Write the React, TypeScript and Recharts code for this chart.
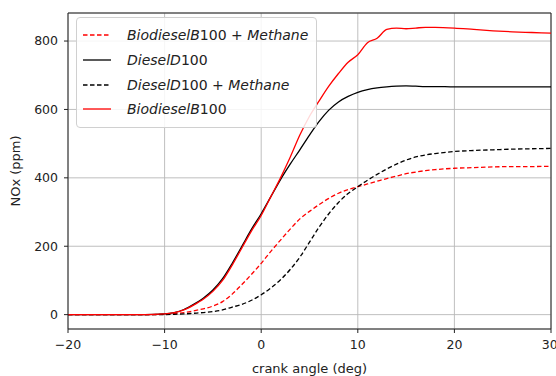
import React from 'react'
import {
  LineChart,
  Line,
  XAxis,
  YAxis,
  CartesianGrid,
  ReferenceLine,
} from 'recharts'

// crank angle samples (deg)
const crankAngle = [
  -20, -15, -12, -10, -9, -8, -7, -6, -5, -4, -3, -2, -1, 0, 1, 2, 3, 4, 5, 6, 7, 8, 9, 10,
  11, 12, 13, 14, 15, 16, 17, 18, 20, 22, 24, 26, 28, 30,
]

// NOx (ppm) per fuel
const biodieselMethane = [
  0, 0, 0, 1, 3, 6, 11, 17, 25, 38, 60, 88, 118, 150, 185, 218, 250, 280, 302, 322, 340, 355,
  366, 374, 382, 390, 398, 405, 412, 417, 421, 424, 428, 430, 432, 433, 433, 434,
]
const diesel = [
  0, 0, 0, 2, 6, 15, 30, 48, 72, 105, 150, 200, 250, 295, 345, 395, 440, 482, 525, 565, 598,
  622, 638, 650, 658, 663, 666, 668, 669, 668, 667, 667, 666, 666, 666, 666, 666, 666,
]
const dieselMethane = [
  0, 0, 0, 0, 1, 2, 4, 6, 9, 14, 22, 30, 42, 58, 78, 102, 132, 168, 212, 256, 295, 328, 354,
  374, 393, 410, 426, 440, 452, 461, 467, 471, 477, 480, 482, 484, 485, 486,
]
const biodiesel = [
  0, 0, 0, 2, 6, 14, 28, 45, 68, 100, 145, 195, 245, 290, 345, 400, 460, 525, 580, 625, 668,
  705, 738, 760, 795, 808, 834, 838, 836, 838, 840, 840, 838, 834, 830, 827, 825, 823,
]

const xTicks = [-20, -10, 0, 10, 20, 30]
const yTicks = [0, 200, 400, 600, 800]

const data = crankAngle.map((x, i) => ({
  x,
  bm: biodieselMethane[i],
  d: diesel[i],
  dm: dieselMethane[i],
  b: biodiesel[i],
}))

const FONT = '"DejaVu Sans", sans-serif'
const TICK = { fontSize: 12.5, fill: '#222', fontFamily: FONT }
const LABEL = { fontSize: 13, fill: '#222', fontFamily: FONT }

const series = [
  { key: 'bm', color: '#ff0000', dash: '4.5 2.5', base: 'BiodieselB', num: '100', tail: true },
  { key: 'd', color: '#000', dash: undefined, base: 'DieselD', num: '100', tail: false },
  { key: 'dm', color: '#000', dash: '4.5 2.5', base: 'DieselD', num: '100', tail: true },
  { key: 'b', color: '#ff0000', dash: undefined, base: 'BiodieselB', num: '100', tail: false },
]

const minus = (v: number) => String(v).replace('-', '\u2212')

function FuelLegend() {
  return (
    <div
      style={{
        position: 'absolute',
        left: 76,
        top: 17,
        border: '1px solid #d0d0d0',
        borderRadius: 4,
        background: 'rgba(255,255,255,0.85)',
        padding: '5px 8px 5px 5px',
        fontFamily: FONT,
        fontSize: 14,
        color: '#222',
      }}
    >
      {series.map((s) => (
        <div key={s.key} style={{ display: 'flex', alignItems: 'center', height: 24.7 }}>
          <svg width={30} height={10} style={{ marginRight: 15 }}>
            <line
              x1={1}
              y1={5}
              x2={29}
              y2={5}
              stroke={s.color}
              strokeWidth={1.3}
              strokeDasharray={s.dash}
            />
          </svg>
          <span style={{ whiteSpace: 'nowrap' }}>
            <i>{s.base}</i>
            {s.num}
            {s.tail && (
              <>
                {' + '}
                <i>Methane</i>
              </>
            )}
          </span>
        </div>
      ))}
    </div>
  )
}

export default function App() {
  return (
    <div style={{ position: 'fixed', left: 0, top: 0, width: 556, height: 376, background: '#fff' }}>
      <LineChart
        width={556}
        height={376}
        data={data}
        margin={{ top: 13, right: 5, bottom: 0, left: 0 }}
      >
        <CartesianGrid stroke="#b8b8b8" strokeWidth={0.9} />
        <XAxis
          dataKey="x"
          type="number"
          domain={[-20, 30]}
          ticks={xTicks}
          allowDataOverflow
          tick={TICK}
          tickFormatter={minus}
          tickSize={4}
          tickMargin={7}
          tickLine={{ stroke: '#222' }}
          axisLine={{ stroke: '#222' }}
          height={47}
          label={{
            value: 'crank angle (deg)',
            position: 'insideBottom',
            offset: 3,
            style: LABEL,
          }}
        />
        <YAxis
          type="number"
          domain={[-42, 882]}
          ticks={yTicks}
          allowDataOverflow
          tick={TICK}
          tickSize={4}
          tickMargin={6}
          tickLine={{ stroke: '#222' }}
          axisLine={{ stroke: '#222' }}
          width={68}
          label={{
            value: 'NOx (ppm)',
            angle: -90,
            position: 'insideLeft',
            offset: 15,
            style: { ...LABEL, textAnchor: 'middle' },
          }}
        />
        <ReferenceLine y={882} stroke="#222" />
        <ReferenceLine x={30} stroke="#222" />
        {series.map((s) => (
          <Line
            key={s.key}
            dataKey={s.key}
            type="monotone"
            stroke={s.color}
            strokeWidth={1.3}
            strokeDasharray={s.dash}
            dot={false}
            isAnimationActive={false}
          />
        ))}
      </LineChart>
      <FuelLegend />
    </div>
  )
}
